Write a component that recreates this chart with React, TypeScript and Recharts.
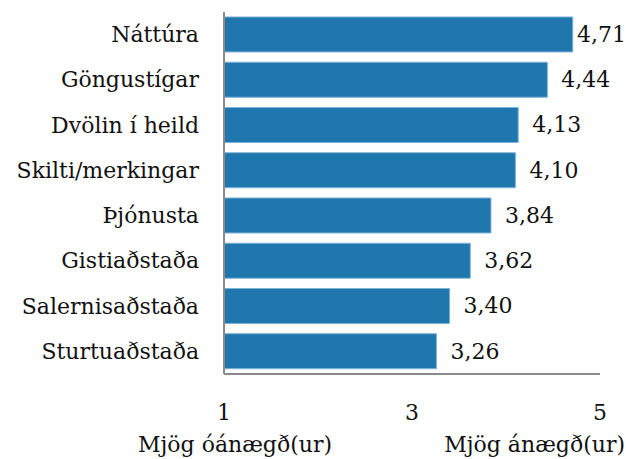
import { Bar, BarChart, LabelList, XAxis, YAxis } from "recharts";

const categories = [
  "Náttúra",
  "Göngustígar",
  "Dvölin í heild",
  "Skilti/merkingar",
  "Þjónusta",
  "Gistiaðstaða",
  "Salernisaðstaða",
  "Sturtuaðstaða",
];
const scores = [4.71, 4.44, 4.13, 4.1, 3.84, 3.62, 3.4, 3.26];
const xTicks = [1, 3, 5];
const scaleNames: Record<number, string> = { 1: "Mjög óánægð(ur)", 5: "Mjög ánægð(ur)" };

const data = categories.map((name, i) => ({ name, score: scores[i] }));

const font = "'DejaVu Serif', serif";
const axisColor = "#8a8a8a";
const txt = { fontFamily: font, fontSize: 22, fill: "#111" };

function XTick(props: any) {
  const { x, y, payload } = props;
  const v = payload.value as number;
  const extra = scaleNames[v];
  return (
    <g>
      <text x={x} y={y + 44} textAnchor="middle" style={txt}>
        {v}
      </text>
      {extra && (
        <text x={v === 1 ? x + 11 : x + 25} y={y + 76} textAnchor={v === 1 ? "middle" : "end"} style={txt}>
          {extra}
        </text>
      )}
    </g>
  );
}

function ValueLabel(props: any) {
  const { x, y, width, height, value } = props;
  const tx = Math.min(x + width + 14, 577);
  return (
    <text x={tx} y={y + height / 2} dominantBaseline="central" style={txt}>
      {Number(value).toFixed(2).replace(".", ",")}
    </text>
  );
}

function YTick(props: any) {
  const { x, y, payload } = props;
  return (
    <text x={x} y={y} textAnchor="end" dominantBaseline="central" style={txt}>
      {payload.value}
    </text>
  );
}

export default function App() {
  return (
    <div style={{ position: "absolute", left: 0, top: 0, background: "#fff" }}>
      <BarChart
        width={626}
        height={459}
        data={data}
        layout="vertical"
        margin={{ top: 12, right: 26, left: 0, bottom: 0 }}
        barCategoryGap="11%"
      >
        <XAxis
          type="number"
          domain={[1, 5]}
          ticks={xTicks}
          height={85}
          tickLine={false}
          tickSize={0}
          stroke={axisColor}
          strokeWidth={2}
          tick={<XTick />}
          interval={0}
        />
        <YAxis
          type="category"
          dataKey="name"
          width={224}
          tickLine={false}
          tickSize={0}
          tickMargin={25}
          stroke={axisColor}
          strokeWidth={2}
          tick={<YTick />}
          interval={0}
        />
        <Bar dataKey="score" fill="#1f77ad" stroke="#7fb2d8" strokeWidth={1} isAnimationActive={false}>
          <LabelList dataKey="score" content={<ValueLabel />} />
        </Bar>
      </BarChart>
    </div>
  );
}
